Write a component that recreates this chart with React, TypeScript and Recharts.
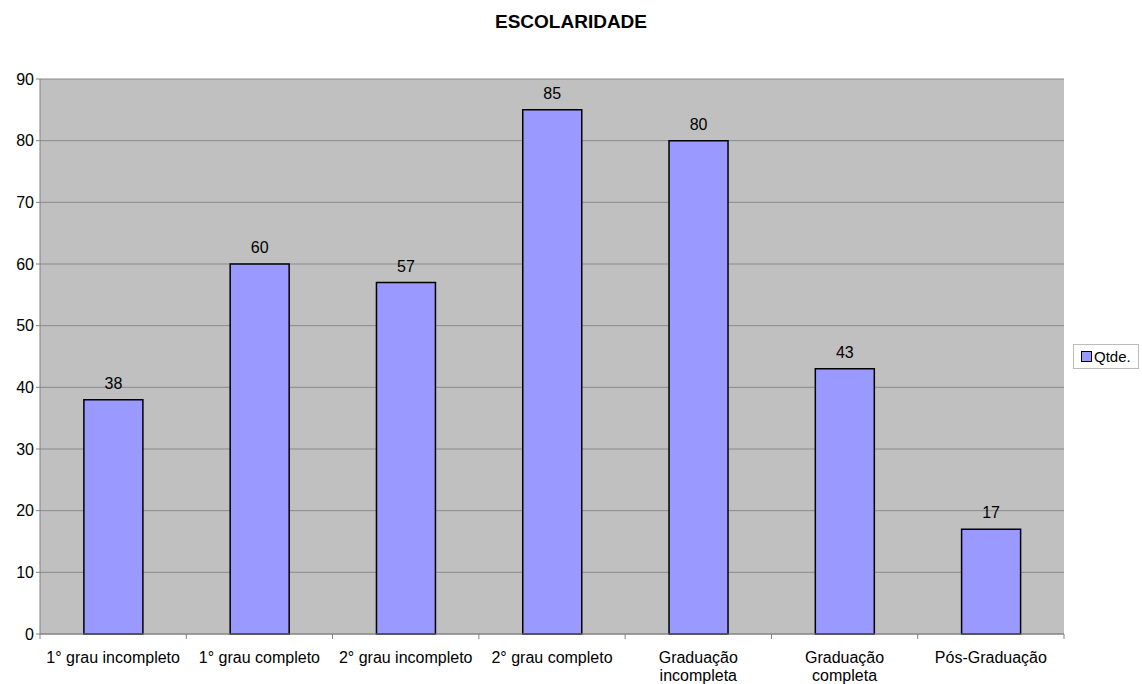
import {
  BarChart,
  Bar,
  XAxis,
  YAxis,
  CartesianGrid,
  LabelList,
} from "recharts";

const categories = [
  "1° grau incompleto",
  "1° grau completo",
  "2° grau incompleto",
  "2° grau completo",
  "Graduação incompleta",
  "Graduação completa",
  "Pós-Graduação",
];
const qtde = [38, 60, 57, 85, 80, 43, 17];
const yTicks = [0, 10, 20, 30, 40, 50, 60, 70, 80, 90];

// rótulos que quebram em duas linhas
const tickLines: Record<string, string[]> = {
  "Graduação incompleta": ["Graduação", "incompleta"],
  "Graduação completa": ["Graduação", "completa"],
};

const data = categories.map((name, i) => ({ name, qtde: qtde[i] }));

const W = 1142;
const H = 684;
const M = { top: 79, right: 78, bottom: 0, left: 0 };
const Y_W = 40;
const FONT = "'Liberation Sans', Arial, sans-serif";

const CategoryTick = (props: any) => {
  const { x, y, payload, index } = props;
  const step = (W - M.left - M.right - Y_W) / categories.length;
  const lines = tickLines[payload.value] ?? [payload.value];
  return (
    <g>
      <line x1={x - step / 2} x2={x - step / 2} y1={y - 8} y2={y - 3} stroke="#808080" />
      {index === categories.length - 1 && (
        <line x1={x + step / 2} x2={x + step / 2} y1={y - 8} y2={y - 3} stroke="#808080" />
      )}
      {lines.map((l, i) => (
        <text
          key={i}
          x={x}
          y={y + 21 + i * 18}
          textAnchor="middle"
          fontSize={16}
          fontFamily={FONT}
          fill="#000"
        >
          {l}
        </text>
      ))}
    </g>
  );
};

export default function App() {
  return (
    <div style={{ position: "absolute", left: 0, top: 0, width: W, height: H, background: "#fff" }}>
      <div
        style={{
          position: "absolute",
          top: 11,
          left: 0,
          width: W,
          textAlign: "center",
          fontFamily: FONT,
          fontWeight: "bold",
          fontSize: 19,
        }}
      >
        ESCOLARIDADE
      </div>
      {/* legenda */}
      <div
        style={{
          position: "absolute",
          left: 1073,
          top: 344,
          width: 66,
          height: 25,
          boxSizing: "border-box",
          border: "1px solid #bbb",
          background: "#fff",
          display: "flex",
          alignItems: "center",
          paddingLeft: 7,
          gap: 2,
          fontFamily: FONT,
          fontSize: 15,
        }}
      >
        <span
          style={{
            width: 9,
            height: 9,
            background: "#9999FF",
            border: "1px solid #000",
            display: "inline-block",
          }}
        />
        Qtde.
      </div>
      <BarChart width={W} height={H} data={data} margin={M} barCategoryGap="30%">
        <CartesianGrid vertical={false} fill="#C0C0C0" stroke="#8a8a8a" fillOpacity={1} />
        <XAxis
          dataKey="name"
          height={50}
          axisLine={{ stroke: "#808080" }}
          tickLine={false}
          tick={<CategoryTick />}
          interval={0}
        />
        <YAxis
          width={Y_W}
          domain={[0, 90]}
          ticks={yTicks}
          axisLine={{ stroke: "#808080" }}
          tickLine={{ stroke: "#808080" }}
          tickSize={4}
          tick={{ fontSize: 16, fill: "#000", fontFamily: FONT }}
        />
        <YAxis
          yAxisId="right"
          orientation="right"
          width={0}
          domain={[0, 90]}
          tick={false}
          tickLine={false}
          axisLine={{ stroke: "#808080" }}
        />
        <Bar dataKey="qtde" name="Qtde." fill="#9999FF" stroke="#000" strokeWidth={1.5} isAnimationActive={false}>
          <LabelList
            dataKey="qtde"
            position="top"
            offset={11}
            fill="#000"
            fontSize={16}
            fontFamily={FONT}
          />
        </Bar>
      </BarChart>
    </div>
  );
}
